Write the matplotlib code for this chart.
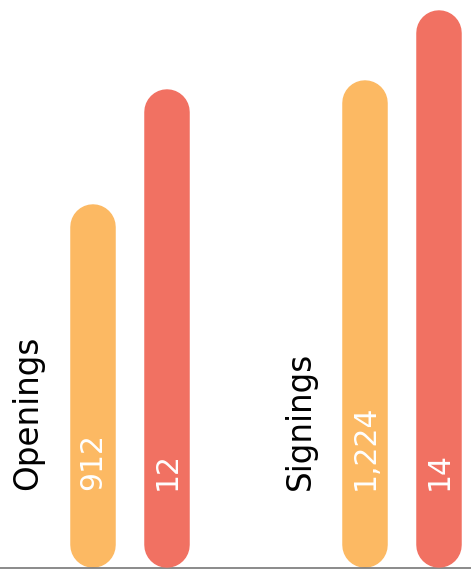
import matplotlib
matplotlib.use("Agg")
import matplotlib.pyplot as plt

categories = ["Openings", "Signings"]
hotels = [912, 1224]      # orange bars
countries = [12, 14]      # red bars
hotel_labels = ["912", "1,224"]
country_labels = ["12", "14"]

ORANGE = "#FCB963"
RED = "#F17162"

W, H = 471, 572
fig = plt.figure(figsize=(W / 100, H / 100), dpi=100)
ax = fig.add_axes([0, 4 / H, 1, 1 - 4 / H])
ax2 = ax.twinx()

ax.set_xlim(-0.478, 1.254)
ax.set_ylim(0, 1425)
ax2.set_ylim(0, 14.25)
for a in (ax, ax2):
    a.axis("off")

bar_w = 45.5  # px
lw = bar_w * 72 / 100
ax_h = H - 4
off = 0.136

def draw_bar(a, x, v, color):
    top = a.get_ylim()[1]
    r = bar_w / 2 * top / ax_h
    a.plot([x, x], [r, v - r], color=color, lw=lw, solid_capstyle="round")

for i, cat in enumerate(categories):
    draw_bar(ax, i - off, hotels[i], ORANGE)
    draw_bar(ax2, i + off, countries[i], RED)
    ax.text(i - 0.375, 196, cat, rotation=90, ha="center", va="bottom",
            fontsize=23.5, color="black")
    ax.text(i - off, 196, hotel_labels[i], rotation=90, ha="center", va="bottom",
            fontsize=21.5, color="white", zorder=5)
    ax2.text(i + off, 1.96, country_labels[i], rotation=90, ha="center", va="bottom",
             fontsize=21.5, color="white", zorder=5)

ax.axhline(0, color="#777777", lw=1.2, clip_on=False)

fig.savefig("out.png", dpi=100)
